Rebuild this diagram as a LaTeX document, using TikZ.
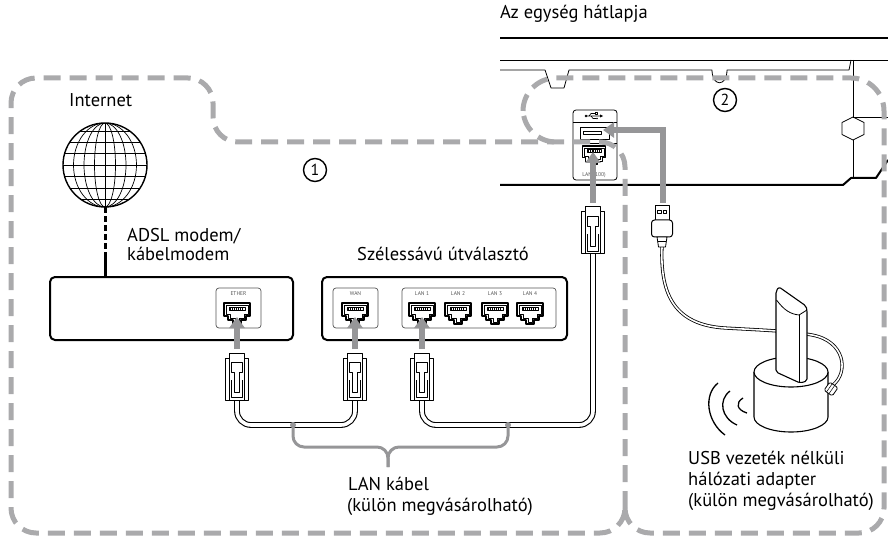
\documentclass[tikz,border=0pt]{standalone}
\usepackage{fontspec}
\setmainfont{PT Sans}
\usetikzlibrary{arrows.meta}
\definecolor{zonegray}{RGB}{170,170,172}
\definecolor{arrgray}{RGB}{150,150,152}
\definecolor{labgray}{RGB}{85,85,85}
\tikzset{
  % RJ45 socket, origin at top centre
  socket/.pic={
    \draw[line width=1.1pt,fill=white] (-13,0) -- (13,0) -- (13,13) -- (9,13) -- (9,17) -- (4,17) -- (4,21) -- (-4,21) -- (-4,17) -- (-9,17) -- (-9,13) -- (-13,13) -- cycle;
    \draw[line width=0.4pt] (-11,2) -- (11,2) -- (11,11) -- (7,11) -- (7,15) -- (2,15) -- (2,19) -- (-2,19) -- (-2,15) -- (-7,15) -- (-7,11) -- (-11,11) -- cycle;
    \draw[line width=0.6pt] (-8,4) rectangle (8,7.5);
    \foreach \i in {-6.5,-4.5,...,6.5} \draw[line width=0.4pt] (\i,4) -- (\i,7.5);
  },
  % RJ45 plug pointing up, origin at top centre
  rjplug/.pic={
    \draw[line width=1pt,fill=white] (-7.5,0) -- (7.5,0) -- (7.5,5) -- (11.5,5) -- (11.5,47) -- (-11.5,47) -- (-11.5,5) -- (-7.5,5) -- cycle;
    \draw[line width=0.7pt] (-7.5,5) -- (-7.5,47) (7.5,5) -- (7.5,47);
    \draw[line width=0.8pt] (-5.5,9) -- (5.5,9) -- (5.5,19) -- (2.5,19) -- (2.5,39) -- (-2.5,39) -- (-2.5,19) -- (-5.5,19) -- cycle;
    \draw[line width=0.7pt] (-5.5,27) -- (-5.5,44) -- (5.5,44) -- (5.5,27);
  },
  % USB-A plug pointing up, origin at top centre
  usbplug/.pic={
    \draw[line width=0.9pt,fill=white] (-7,0) rectangle (7,15);
    \draw[line width=0.6pt] (-4.5,5) rectangle (-1,8.5) (1,5) rectangle (4.5,8.5);
    \draw[line width=1pt,fill=white,rounded corners=3pt] (-10.5,15) rectangle (10.5,32);
    \draw[line width=0.8pt,fill=white] (-5,32) -- (5,32) -- (3.5,42) -- (-3.5,42) -- cycle;
    \draw[line width=0.5pt] (-4.3,36) -- (4.3,36);
  }
}
\begin{document}
\begin{tikzpicture}[x=1pt,y=-1pt,line join=round,
  txt/.style={anchor=base west,inner sep=0pt,font=\fontsize{18.5}{22}\selectfont},
  tiny/.style={inner sep=0pt,font=\fontsize{5.5}{6}\selectfont,text=labgray},
  devbox/.style={draw,line width=2pt,rounded corners=5pt,inner sep=0pt,minimum height=63pt},
  portframe/.style={draw=labgray,line width=0.7pt,rounded corners=3pt},
  zone/.style={draw=zonegray,line width=5pt,dash pattern=on 17pt off 9pt},
  garrow/.style={draw=arrgray,line width=5.5pt,line join=miter,-{Triangle[width=15pt,length=11pt]}},
  lancable/.style={draw,double=white,double distance=3.6pt,line width=1.1pt,rounded corners=14pt},
  usbcable/.style={draw,double=white,double distance=1.6pt,line width=0.8pt},
  brace/.style={draw=arrgray,line width=3pt,rounded corners=11pt},
  numcirc/.style={circle,draw,line width=1.4pt,inner sep=0pt,minimum size=23pt,font=\fontsize{16}{16}\selectfont},
]
\useasboundingbox (0,0) rectangle (888,537);

% ---- back panel of the unit ----
\draw[line width=2pt] (500,38) -- (888,38);
\draw[line width=0.8pt] (500,60) -- (888,60);
\draw[line width=0.8pt] (500,70) -- (545,70) -- (551,88) -- (564,88) -- (569,70) -- (712,70)
  .. controls (712,87) and (727,87) .. (727,70) -- (849,70) -- (851,60);
\draw[line width=0.8pt] (853,60) -- (853,117) (853,140) -- (853,178);
\draw[line width=0.8pt] (853,117) -- (864,122.5) -- (864,134.5) -- (853,140) -- (842,134.5) -- (842,122.5) -- cycle;
\draw[line width=0.8pt] (853,117) -- (888,117);
\draw[line width=2pt] (500,185) -- (843,185) -- (851,178) -- (876,178) -- (888,160);

% port block: USB and LAN
\node[draw,line width=0.8pt,rounded corners=3pt,minimum width=44pt,minimum height=70pt,inner sep=0pt] (unitports) at (595,145) {};
\draw[line width=0.6pt] (573,122) -- (617,122) (573,143) -- (617,143);
% USB trident
\fill (586,116) circle (1.4pt);
\draw[line width=0.6pt] (586,116) -- (600,116) (589,116) -- (591,113.5) -- (595,113.5) (591,116) -- (593,118.5) -- (596,118.5);
\fill (600,114.5) -- (603,116) -- (600,117.5) -- cycle;
\draw[line width=0.6pt] (595,112.5) rectangle (597,114.5);
\fill (597,118.5) circle (0.9pt);
\draw[line width=1pt] (580,128) rectangle (609,140);
\draw[line width=0.6pt] (583,131) rectangle (601,134);
\coordinate (usbport) at (603,130);
\pic[scale=0.9] at (594,146) {socket};
\coordinate (unitlan) at (593,152);
\node[tiny,anchor=base] at (594,177) {LAN (100)};

% ---- modem and router ----
\node[devbox,minimum width=243pt] (modem) at (171.5,308.5) {};
\node[devbox,minimum width=245pt] (router) at (444.5,308.5) {};
\draw[portframe] (216,288) rectangle (261,328);
\draw[portframe] (333,288) rectangle (378,328);
\draw[portframe] (402,288) rectangle (556,328);
\node[tiny] at (238.5,294) {ETHER};
\node[tiny] at (355.5,294) {WAN};
\node[tiny] at (422,294) {LAN 1};
\node[tiny] at (458,294) {LAN 2};
\node[tiny] at (495,294) {LAN 3};
\node[tiny] at (530,294) {LAN 4};
\pic at (237,303) {socket};
\pic at (355,303) {socket};
\pic at (422,303) {socket};
\pic at (458,303) {socket};
\pic at (495,303) {socket};
\pic at (530,303) {socket};
\coordinate (ethport) at (237,317);
\coordinate (wanport) at (355,317);
\coordinate (lan1port) at (422,317);

% ---- Internet globe ----
\node[circle,minimum size=84pt,inner sep=0pt] (globe) at (105,165) {};
\begin{scope}
  \clip (105,165) circle (42pt);
  \foreach \k in {10.5,21,31.5} \draw[line width=0.7pt] (105,165) ellipse ({\k pt} and 42pt);
  \draw[line width=0.7pt] (105,123) -- (105,207);
  \foreach \d in {-34,-23,-11.5,0,11.5,23,34} \draw[line width=0.7pt] (63,165+\d) -- (147,165+\d);
\end{scope}
\draw[line width=1.4pt] (105,165) circle (42pt);
\coordinate (gdash) at (105,258);
\draw[line width=3pt,dash pattern=on 6pt off 3pt] (globe.south) -- (gdash);
\draw[line width=3pt] (gdash) -- (modem.north -| gdash);

% ---- LAN cables and plugs ----
\coordinate (ethtail) at (237,400);
\coordinate (wantail) at (355,400);
\coordinate (lan1tail) at (422,400);
\coordinate (unittail) at (593,254);
\coordinate (j1) at (293,425);
\coordinate (j2) at (508,425);
\draw[lancable] (ethtail) |- (j1) -| (wantail);
\draw[lancable] (lan1tail) |- (j2) -| (unittail);
\pic at (237,353) {rjplug};
\pic at (355,353) {rjplug};
\pic at (422,353) {rjplug};
\pic at (593,207) {rjplug};
\coordinate (ethplug) at (237,349);
\coordinate (wanplug) at (355,349);
\coordinate (lan1plug) at (422,349);
\coordinate (unitplug) at (593,203);

% ---- USB wireless adapter ----
\coordinate (usbtail) at (662,247);
\coordinate (knob) at (833,385);
\draw[usbcable] (usbtail) .. controls (660,295) and (675,325) .. (725,328)
  .. controls (760,330) and (790,331) .. (812,335) .. controls (845,341) and (849,372) .. (knob);
\pic at (662,205) {usbplug};
\coordinate (usbplugtop) at (663,203);
% base
\fill[white] (754,372) rectangle (828,417);
\fill[white] (791,417) ellipse (37pt and 15pt);
\draw[line width=1.1pt] (754,372) -- (754,417) .. controls (754,425.3) and (770.6,432) .. (791,432)
  .. controls (811.4,432) and (828,425.3) .. (828,417) -- (828,372);
\draw[line width=1.1pt,fill=white] (791,372) ellipse (37pt and 15pt);
% stick antenna
\draw[line width=1.1pt,fill=white,rounded corners=2pt] (776,291) -- (779,287) -- (806,306) -- (807,310)
  -- (807,381) -- (800,383) -- (776,372) -- cycle;
\draw[line width=0.8pt] (776.5,300) .. controls (784,310) and (790,314) .. (799,315) -- (807,310);
\draw[line width=0.8pt] (799,315) -- (799,383);
% cable strain knob
\draw[line width=0.8pt,fill=white,rounded corners=1.5pt,rotate around={-35:(831,389)}] (826,384) rectangle (836,394);
\draw[line width=0.5pt,rotate around={-35:(831,389)}] (829,384) -- (829,394) (832,384) -- (832,394);
% radio waves
\draw[line width=1.3pt] (718,383) .. controls (703,395) and (707,422) .. (725,435);
\draw[line width=1.3pt] (730,391) .. controls (718,400) and (721,418) .. (737,425);
\draw[line width=1.3pt] (743,398) .. controls (735,403) and (737,410) .. (747,413);

% ---- dashed zones ----
\draw[zone,rounded corners=25pt] (625,533) -- (625,142) -- (213,142) -- (213,78) -- (11,78) -- (11,533) -- cycle;
\draw[zone] (625,508) [rounded corners=25pt] -- (625,533) -- (884,533) [rounded corners=33pt] -- (884,78) -- (523,78) -- (523,142) -- (555,142);

% ---- connection arrows ----
\draw[garrow] (ethplug) -- (ethport);
\draw[garrow] (wanplug) -- (wanport);
\draw[garrow] (lan1plug) -- (lan1port);
\draw[garrow] (unitplug) -- (unitlan);
\draw[garrow] (usbplugtop) |- (usbport);

% ---- brace for the LAN cables ----
\coordinate (bm) at (388,447);
\coordinate (bt) at (388,467);
\draw[brace] (j1) |- (bm) -- (bt);
\draw[brace] (j2) |- (bm) -- (bt);
\fill[arrgray] (j1) circle (3pt) (j2) circle (3pt);

% ---- labels ----
\node[txt] (hdr) at (500,19) {Az egység hátlapja};
\node[txt] (inet) at (69,107) {Internet};
\node[txt] (m1) at (127,242) {ADSL modem/};
\node[txt] (m2) at (127,261) {kábelmodem};
\node[txt] (rt) at (357,260) {Szélessávú útválasztó};
\node[txt] (lk1) at (348,490) {LAN kábel};
\node[txt] (lk2) at (347,511) {(külön megvásárolható)};
\node[txt] (u1) at (688,464) {USB vezeték nélküli};
\node[txt] (u2) at (688,485) {hálózati adapter};
\node[txt] (u3) at (688,506) {(külön megvásárolható)};
\node[numcirc] (n1) at (315,170) {1};
\node[numcirc] (n2) at (725,100) {2};
\end{tikzpicture}
\end{document}
